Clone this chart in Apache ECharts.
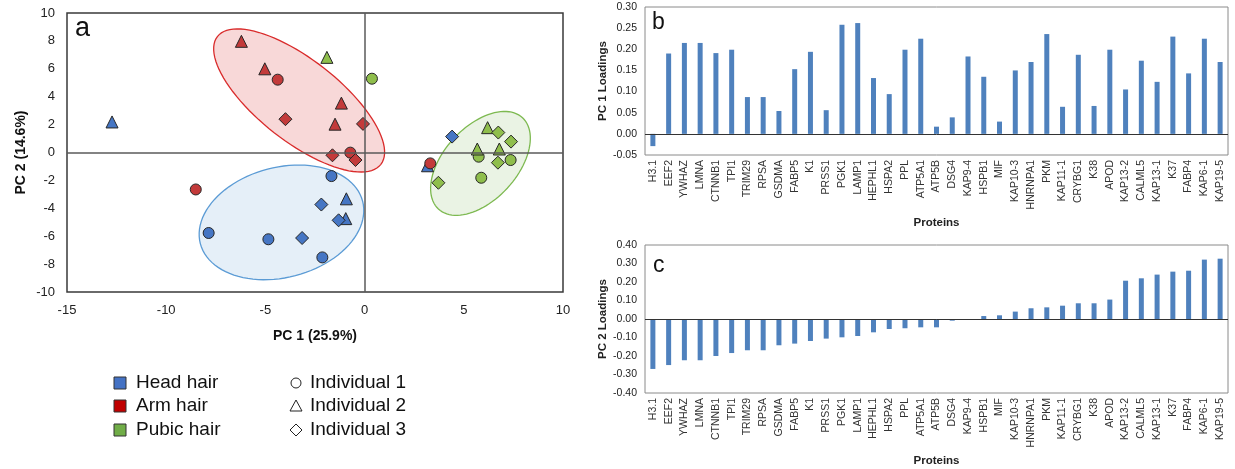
<!DOCTYPE html>
<html>
<head>
<meta charset="utf-8">
<script src="https://cdn.jsdelivr.net/npm/echarts@6/dist/echarts.min.js"></script>
<style>html,body{margin:0;padding:0;background:#fff;}#c{width:1235px;height:469px;}</style>
</head>
<body>
<div id="c"></div>
<script>
// ---- Panel a: PCA scores [PC1, PC2] ----
const headInd1 = [[-1.67,-1.69],[-7.86,-5.77],[-4.85,-6.22],[-2.13,-7.52]];
const headInd2 = [[-12.73,2.19],[-0.92,-3.32],[-0.95,-4.74],[3.17,-0.95]];
const headInd3 = [[-2.18,-3.73],[-1.31,-4.86],[-3.15,-6.13],[4.41,1.14]];
const armInd1 = [[-4.38,5.22],[-0.72,-0.01],[-8.51,-2.65],[3.31,-0.78]];
const armInd2 = [[-6.21,7.97],[-5.03,6.0],[-1.17,3.54],[-1.49,2.03]];
const armInd3 = [[-3.99,2.39],[-0.08,2.05],[-1.62,-0.2],[-0.46,-0.54]];
const pubicInd1 = [[0.37,5.29],[5.75,-0.3],[7.36,-0.54],[5.88,-1.81]];
const pubicInd2 = [[-1.9,6.82],[6.2,1.78],[5.68,0.25],[6.79,0.25]];
const pubicInd3 = [[6.74,1.43],[7.38,0.78],[6.72,-0.73],[3.72,-2.17]];
// ellipses: [centerX, centerY, axis1X, axis1Y, axis2X, axis2Y] in data units
const ellipseHead = [-4.19,-5.01,4.09,1.52,0.70,-3.82];
const ellipseArm = [-3.30,3.73,4.12,-4.58,-1.26,-2.31];
const ellipsePubic = [5.84,-0.78,2.12,3.27,1.35,-1.78];
const groupNames = ['Head hair','Arm hair','Pubic hair'];
const individualNames = ['Individual 1','Individual 2','Individual 3'];
const xTicksA = [-15,10,5];
const yTicksA = [-10,10,2];

// ---- Panels b, c: loadings ----
const proteins = ['H3.1','EEF2','YWHAZ','LMNA','CTNNB1','TPI1','TRIM29','RPSA','GSDMA','FABP5','K1','PRSS1','PGK1','LAMP1','HEPHL1','HSPA2','PPL','ATP5A1','ATP5B','DSG4','KAP9-4','HSPB1','MIF','KAP10-3','HNRNPA1','PKM','KAP11-1','CRYBG1','K38','APOD','KAP13-2','CALML5','KAP13-1','K37','FABP4','KAP6-1','KAP19-5'];
const pc1Loadings = [-0.029,0.190,0.215,0.215,0.191,0.199,0.087,0.087,0.054,0.153,0.194,0.056,0.258,0.262,0.132,0.094,0.199,0.225,0.017,0.039,0.183,0.135,0.029,0.150,0.170,0.236,0.064,0.187,0.066,0.199,0.105,0.173,0.123,0.230,0.143,0.225,0.170];
const pc2Loadings = [-0.270,-0.249,-0.223,-0.223,-0.200,-0.184,-0.169,-0.169,-0.142,-0.133,-0.119,-0.106,-0.099,-0.092,-0.072,-0.054,-0.050,-0.045,-0.045,-0.009,0,0.016,0.020,0.040,0.058,0.063,0.072,0.085,0.085,0.105,0.207,0.220,0.240,0.256,0.261,0.321,0.326];
const yTicksB = [-0.05,0.30,0.05];
const yTicksC = [-0.40,0.40,0.10];

const FONT = 'Liberation Sans, Arial, sans-serif';
const ptColors = ['#4676C4','#C33A3A','#8FBE4C'];
const legColors = ['#4472C4','#C00000','#70AD47'];
const ellStroke = ['#5B9BD5','#D92B2B','#7DB950'];
const ellFill = ['rgba(91,155,213,0.16)','rgba(220,60,60,0.2)','rgba(112,173,71,0.15)'];
const symbols = ['circle','triangle','diamond'];
const symSizes = [11,12,13];

const chart = echarts.init(document.getElementById('c'), null, {renderer:'canvas'});

const scatterData = [[headInd1,headInd2,headInd3],[armInd1,armInd2,armInd3],[pubicInd1,pubicInd2,pubicInd3]];
const series = [];
series.push({
  type:'custom', xAxisIndex:0, yAxisIndex:0, z:1, silent:true,
  data:[ellipseHead, ellipseArm, ellipsePubic],
  renderItem:function(params, api){
    const cx=api.value(0), cy=api.value(1), ux=api.value(2), uy=api.value(3), vx=api.value(4), vy=api.value(5);
    const pts=[];
    for(let k=0;k<=96;k++){
      const t=2*Math.PI*k/96;
      pts.push(api.coord([cx+ux*Math.cos(t)+vx*Math.sin(t), cy+uy*Math.cos(t)+vy*Math.sin(t)]));
    }
    const i=params.dataIndex;
    return {type:'polygon', shape:{points:pts}, style:{fill:ellFill[i], stroke:ellStroke[i], lineWidth:1.3}};
  }
});
scatterData.forEach((grp,g)=>{
  grp.forEach((d,ind)=>{
    const s = {
      type:'scatter', name:groupNames[g]+' '+individualNames[ind], xAxisIndex:0, yAxisIndex:0, z:3,
      data:d, symbol:symbols[ind], symbolSize:symSizes[ind],
      itemStyle:{color:ptColors[g], borderColor:'#262626', borderWidth:1, opacity:1}
    };
    if(g===0 && ind===0){
      s.markLine = {silent:true, symbol:['none','none'], label:{show:false}, animation:false,
        lineStyle:{color:'#5a5a5a', width:1.5, type:'solid'},
        data:[{xAxis:0},{yAxis:0}]};
    }
    series.push(s);
  });
});
const zeroLine = {silent:true, symbol:['none','none'], label:{show:false}, animation:false,
  lineStyle:{color:'#333', width:1, type:'solid'}, data:[{yAxis:0}]};
series.push({type:'bar', xAxisIndex:1, yAxisIndex:1, data:pc1Loadings, barWidth:5,
  itemStyle:{color:'#4F81BD'}, markLine:zeroLine});
series.push({type:'bar', xAxisIndex:2, yAxisIndex:2, data:pc2Loadings, barWidth:5,
  itemStyle:{color:'#4F81BD'}, markLine:zeroLine});

const valLabel = (fs, margin)=>({fontSize:fs, color:'#222', fontFamily:FONT, margin:margin});
const catAxis = (gi)=>({type:'category', gridIndex:gi, data:proteins,
  axisLine:{show:false}, axisTick:{show:false}, splitLine:{show:false},
  axisLabel:{rotate:90, interval:0, fontSize:10.5, color:'#333', fontFamily:FONT, margin:5},
  name:'Proteins', nameLocation:'middle', nameGap:62,
  nameTextStyle:{fontWeight:'bold', fontSize:11.5, color:'#222', fontFamily:FONT}});
const loadAxis = (gi, t, nm)=>({type:'value', gridIndex:gi, min:t[0], max:t[1], interval:t[2],
  axisLine:{show:false}, axisTick:{show:false}, splitLine:{show:false},
  axisLabel:Object.assign(valLabel(10.5,8),{formatter:v=>v.toFixed(2)}),
  name:nm, nameLocation:'middle', nameGap:36, nameRotate:90,
  nameTextStyle:{fontWeight:'bold', fontSize:11.5, color:'#222', fontFamily:FONT}});

const graphic = [];
graphic.push({type:'text', left:75, top:15, style:{text:'a', font:'27px '+FONT, fill:'#111'}});
graphic.push({type:'text', left:652, top:11, style:{text:'b', font:'23px '+FONT, fill:'#111'}});
graphic.push({type:'text', left:653, top:254, style:{text:'c', font:'23px '+FONT, fill:'#111'}});
const legY = [383,406,430];
groupNames.forEach((n,i)=>{
  graphic.push({type:'rect', shape:{x:114, y:legY[i]-6, width:12, height:12},
    style:{fill:legColors[i], stroke:'#333', lineWidth:1}});
  graphic.push({type:'text', x:136, y:legY[i], style:{text:n, font:'19px '+FONT, fill:'#111', verticalAlign:'middle'}});
});
graphic.push({type:'circle', shape:{cx:296, cy:legY[0], r:5}, style:{fill:'#fff', stroke:'#222', lineWidth:1}});
graphic.push({type:'polygon', shape:{points:[[296,legY[1]-6],[302,legY[1]+5],[290,legY[1]+5]]}, style:{fill:'#fff', stroke:'#222', lineWidth:1}});
graphic.push({type:'polygon', shape:{points:[[296,legY[2]-6],[302,legY[2]],[296,legY[2]+6],[290,legY[2]]]}, style:{fill:'#fff', stroke:'#222', lineWidth:1}});
individualNames.forEach((n,i)=>{
  graphic.push({type:'text', x:310, y:legY[i], style:{text:n, font:'19px '+FONT, fill:'#111', verticalAlign:'middle'}});
});

chart.setOption({
  animation:false,
  backgroundColor:'#fff',
  textStyle:{fontFamily:FONT},
  grid:[
    {left:67, top:13, width:496, height:279, show:true, borderColor:'#3a3a3a', borderWidth:1.5, backgroundColor:'transparent'},
    {left:645, top:7, width:583, height:148, show:true, borderColor:'#8a8a8a', borderWidth:1, backgroundColor:'transparent'},
    {left:645, top:245, width:583, height:148, show:true, borderColor:'#8a8a8a', borderWidth:1, backgroundColor:'transparent'}
  ],
  xAxis:[
    {type:'value', gridIndex:0, min:xTicksA[0], max:xTicksA[1], interval:xTicksA[2],
     axisLine:{show:false}, axisTick:{show:false}, splitLine:{show:false},
     axisLabel:valLabel(13,12),
     name:'PC 1 (25.9%)', nameLocation:'middle', nameGap:37,
     nameTextStyle:{fontWeight:'bold', fontSize:14, color:'#111', fontFamily:FONT}},
    catAxis(1), catAxis(2)
  ],
  yAxis:[
    {type:'value', gridIndex:0, min:yTicksA[0], max:yTicksA[1], interval:yTicksA[2],
     axisLine:{show:false}, axisTick:{show:false}, splitLine:{show:false},
     axisLabel:valLabel(13,12),
     name:'PC 2 (14.6%)', nameLocation:'middle', nameGap:39, nameRotate:90,
     nameTextStyle:{fontWeight:'bold', fontSize:14, color:'#111', fontFamily:FONT}},
    loadAxis(1, yTicksB, 'PC 1 Loadings'),
    loadAxis(2, yTicksC, 'PC 2 Loadings')
  ],
  series:series,
  graphic:graphic
});
</script>
</body>
</html>
